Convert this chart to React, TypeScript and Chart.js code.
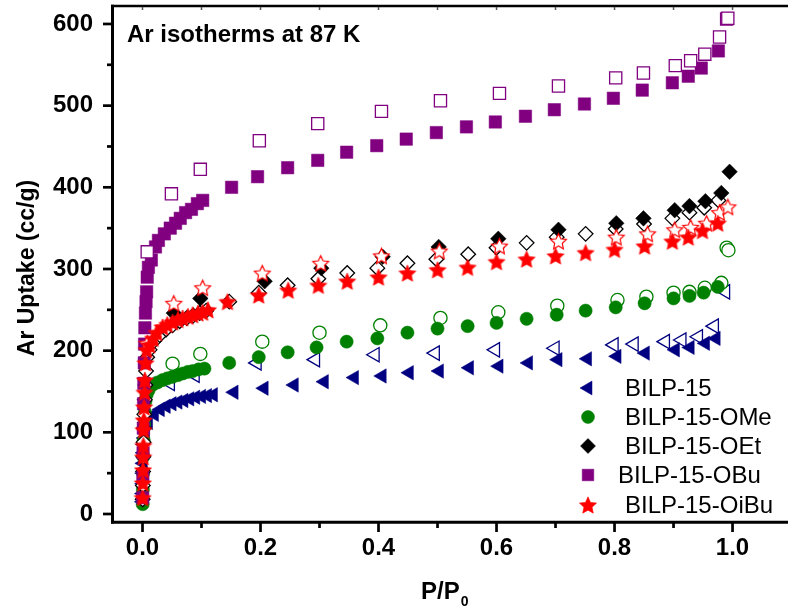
import React, { useEffect, useRef } from 'react';
import { Chart, registerables } from 'chart.js';
import { drawPoint } from 'chart.js/helpers';

Chart.register(...registerables);

// ---------------- data: P/P0 and Ar uptake (cc/g) ----------------
// BILP-15 (navy triangles)
const bilp15AdsP = [0.0002, 0.0004, 0.0006, 0.0008, 0.001, 0.0015, 0.002, 0.003, 0.005, 0.01, 0.02, 0.03, 0.04, 0.05, 0.06, 0.07, 0.08, 0.09, 0.1, 0.11, 0.12,
  0.155, 0.206, 0.257, 0.308, 0.359, 0.406, 0.452, 0.503, 0.554, 0.604, 0.654, 0.704, 0.754, 0.804, 0.852, 0.903, 0.928, 0.954, 0.972];
const bilp15AdsV = [15, 25, 37, 50, 62, 75, 85, 93, 100, 112, 122, 128, 132, 135, 137, 139, 141, 143, 144, 145, 146,
  149, 154, 158, 162, 167, 169, 173, 175, 179, 181, 185, 189, 190, 193, 197, 201, 204, 209, 215];
const bilp15DesP = [0.047, 0.089, 0.194, 0.293, 0.394, 0.496, 0.598, 0.699, 0.799, 0.833, 0.886, 0.914, 0.942, 0.969, 0.988];
const bilp15DesV = [160, 170, 185, 189, 195, 197, 201, 203, 207, 208, 211, 213, 217, 230, 272];

// BILP-15-OMe (green circles)
const omeAdsP = [0.0003, 0.0006, 0.001, 0.0015, 0.002, 0.003, 0.004, 0.005, 0.007, 0.01, 0.017, 0.025, 0.034, 0.042, 0.051, 0.06, 0.068, 0.077, 0.085, 0.095, 0.105,
  0.147, 0.197, 0.246, 0.295, 0.346, 0.398, 0.449, 0.5, 0.551, 0.6, 0.651, 0.702, 0.751, 0.802, 0.851, 0.9, 0.927, 0.951, 0.975];
const omeAdsV = [12, 30, 50, 70, 90, 110, 125, 138, 146, 151, 158, 161, 164, 166, 168, 170, 172, 174, 175, 177, 178,
  185, 192, 198, 204, 211, 215, 222, 227, 230, 234, 239, 244, 249, 253, 258, 264, 267, 271, 278];
const omeDesP = [0.012, 0.051, 0.098, 0.203, 0.3, 0.403, 0.505, 0.603, 0.703, 0.805, 0.854, 0.9, 0.927, 0.953, 0.981, 0.99, 0.993];
const omeDesV = [158, 184, 196, 211, 222, 231, 240, 247, 255, 262, 266, 271, 272, 277, 283, 326, 323];

// BILP-15-OEt (black diamonds)
const oetAdsP = [0.053, 0.098, 0.207, 0.303, 0.407, 0.502, 0.603, 0.705, 0.803, 0.849, 0.902, 0.927, 0.954, 0.981, 0.995];
const oetAdsV = [246, 264, 285, 301, 315, 327, 337, 348, 356, 362, 372, 377, 383, 393, 419];
const oetDesP = [0.0003, 0.0006, 0.001, 0.0014, 0.0018, 0.0023, 0.003, 0.004, 0.005, 0.006, 0.008, 0.012, 0.02, 0.029, 0.04, 0.051, 0.063, 0.075, 0.086, 0.097, 0.108,
  0.147, 0.197, 0.246, 0.298, 0.347, 0.398, 0.449, 0.498, 0.552, 0.6, 0.651, 0.702, 0.751, 0.802, 0.85, 0.898, 0.927, 0.952, 0.976];
const oetDesV = [18, 35, 52, 70, 88, 105, 122, 140, 158, 175, 192, 201, 212, 219, 226, 231, 236, 240, 243, 246, 249,
  260, 271, 280, 288, 295, 301, 307, 312, 318, 326, 332, 339, 343, 349, 355, 362, 369, 375, 384];

// BILP-15-OBu (purple squares)
const obuAdsP = [0.0003, 0.0006, 0.001, 0.0014, 0.0018, 0.0023, 0.003, 0.0035, 0.004, 0.005, 0.006, 0.007, 0.008, 0.01, 0.015, 0.022, 0.027, 0.037, 0.047, 0.056, 0.064, 0.073, 0.083, 0.093, 0.102,
  0.151, 0.195, 0.246, 0.297, 0.346, 0.397, 0.447, 0.498, 0.549, 0.598, 0.649, 0.698, 0.749, 0.798, 0.847, 0.898, 0.925, 0.947, 0.976];
const obuAdsV = [20, 45, 75, 105, 135, 160, 185, 208, 228, 246, 260, 272, 290, 302, 311, 327, 335, 343, 350, 356, 362, 369, 373, 380, 384,
  400, 413, 424, 433, 443, 451, 459, 467, 474, 480, 487, 495, 502, 509, 519, 528, 536, 546, 567];
const obuDesP = [0.008, 0.049, 0.098, 0.198, 0.297, 0.405, 0.505, 0.605, 0.705, 0.802, 0.849, 0.903, 0.929, 0.953, 0.978, 0.99, 0.992];
const obuDesV = [321, 392, 422, 457, 478, 493, 506, 515, 524, 534, 540, 549, 555, 563, 584, 606, 607];

// BILP-15-OiBu (red stars)
const oibuAdsP = [0.0003, 0.0006, 0.0009, 0.0012, 0.0015, 0.0019, 0.0023, 0.0028, 0.0034, 0.004, 0.005, 0.007, 0.012, 0.018, 0.024, 0.034, 0.042, 0.051, 0.06, 0.068, 0.077, 0.085, 0.094, 0.102, 0.111,
  0.144, 0.197, 0.247, 0.298, 0.347, 0.4, 0.449, 0.5, 0.551, 0.6, 0.651, 0.7, 0.751, 0.8, 0.851, 0.898, 0.925, 0.949, 0.975];
const oibuAdsV = [20, 38, 54, 70, 84, 103, 115, 131, 149, 164, 185, 201, 207, 215, 222, 229, 232, 235, 238, 240, 242, 244, 246, 247, 250,
  260, 268, 274, 280, 285, 290, 295, 299, 302, 309, 312, 316, 320, 324, 328, 334, 339, 347, 356];
const oibuDesP = [0.008, 0.053, 0.102, 0.203, 0.302, 0.405, 0.503, 0.605, 0.705, 0.803, 0.856, 0.902, 0.929, 0.956, 0.978, 0.992];
const oibuDesV = [209, 258, 277, 295, 307, 316, 322, 328, 334, 339, 343, 348, 351, 356, 369, 376];

// axis ticks and texts
const xTickValues = [0, 0.2, 0.4, 0.6, 0.8, 1.0];
const xMinorValues = [0.1, 0.3, 0.5, 0.7, 0.9];
const yTickValues = [0, 100, 200, 300, 400, 500, 600];
const yMinorValues = [50, 150, 250, 350, 450, 550];
const seriesNames = ['BILP-15', 'BILP-15-OMe', 'BILP-15-OEt', 'BILP-15-OBu', 'BILP-15-OiBu'];
const annotationText = 'Ar isotherms at 87 K';
const yTitle = 'Ar Uptake (cc/g)';

const FONT = "'Liberation Sans', Arial, Helvetica, sans-serif";
const NAVY = '#000080';
const GREEN = '#008000';
const BLACK = '#000000';
const PURPLE = '#800080';
const RED = '#ff0000';

function makeStar(fill: string, stroke: string, outer: number, inner: number, lw: number) {
  const size = Math.ceil(outer * 2 + lw * 2 + 2);
  const c = document.createElement('canvas');
  c.width = size;
  c.height = size;
  const ctx = c.getContext('2d')!;
  const cx = size / 2;
  const cy = size / 2 + outer * 0.095;
  ctx.beginPath();
  for (let i = 0; i < 10; i++) {
    const r = i % 2 === 0 ? outer : inner;
    const a = -Math.PI / 2 + (i * Math.PI) / 5;
    ctx.lineTo(cx + r * Math.cos(a), cy + r * Math.sin(a));
  }
  ctx.closePath();
  ctx.fillStyle = fill;
  ctx.fill();
  if (lw > 0) {
    ctx.lineWidth = lw;
    ctx.strokeStyle = stroke;
    ctx.lineJoin = 'miter';
    ctx.stroke();
  }
  return c;
}

function pts(xs: number[], ys: number[]) {
  return xs.map((x, i) => ({ x, y: ys[i] }));
}

export default function App() {
  const ref = useRef<HTMLCanvasElement | null>(null);

  useEffect(() => {
    const canvas = ref.current;
    if (!canvas) return;
    const starFilled = makeStar(RED, RED, 9, 4.3, 0.6);
    const starOpen = makeStar('#ffffff', RED, 8.3, 4.0, 1.2);

    const mk = (label: string, xs: number[], ys: number[], style: any, color: string, filled: boolean, radius: number, order: number, rotation = 0) => ({
      label,
      data: pts(xs, ys),
      showLine: false,
      pointStyle: style,
      pointRotation: rotation,
      pointRadius: radius,
      pointHoverRadius: radius,
      pointBackgroundColor: filled ? color : '#ffffff',
      pointBorderColor: color,
      pointBorderWidth: filled ? 0.5 : 1.3,
      order,
      clip: false,
    });

    const datasets = [
      mk('BILP-15-OiBu', oibuAdsP, oibuAdsV, starFilled, RED, true, 8, 1),
      mk('BILP-15-OiBu des', oibuDesP, oibuDesV, starOpen, RED, false, 8, 2),
      mk('BILP-15-OBu des', obuDesP, obuDesV, 'rect', PURPLE, false, 8.6, 3),
      mk('BILP-15-OBu', obuAdsP, obuAdsV, 'rect', PURPLE, true, 8.8, 4),
      mk('BILP-15-OEt', oetAdsP, oetAdsV, 'rectRot', BLACK, true, 7.8, 5),
      mk('BILP-15-OEt des', oetDesP, oetDesV, 'rectRot', BLACK, false, 7.3, 6),
      mk('BILP-15-OMe', omeAdsP, omeAdsV, 'circle', GREEN, true, 6.6, 7),
      mk('BILP-15-OMe des', omeDesP, omeDesV, 'circle', GREEN, false, 6.6, 8),
      mk('BILP-15', bilp15AdsP, bilp15AdsV, 'triangle', NAVY, true, 8.3, 9, -90),
      mk('BILP-15 des', bilp15DesP, bilp15DesV, 'triangle', NAVY, false, 8.3, 10, -90),
    ];

    const legendItems = [
      { name: seriesNames[0], style: 'triangle', rotation: -90, radius: 8, color: NAVY, y: 388, tx: 625 },
      { name: seriesNames[1], style: 'circle', rotation: 0, radius: 6.5, color: GREEN, y: 417, tx: 625 },
      { name: seriesNames[2], style: 'rectRot', rotation: 0, radius: 7.5, color: BLACK, y: 446, tx: 625 },
      { name: seriesNames[3], style: 'rect', rotation: 0, radius: 8.2, color: PURPLE, y: 475, tx: 618 },
      { name: seriesNames[4], style: starFilled, rotation: 0, radius: 8, color: RED, y: 505, tx: 625 },
    ];

    const decor = {
      id: 'decor',
      afterDraw(chart: any) {
        const ctx: CanvasRenderingContext2D = chart.ctx;
        const { left, right, top, bottom } = chart.chartArea;
        const xs = chart.scales.x;
        const ys = chart.scales.y;
        ctx.save();
        ctx.strokeStyle = '#000';
        ctx.lineCap = 'butt';
        // frame
        ctx.lineWidth = 3;
        ctx.beginPath();
        ctx.moveTo(left - 0.5, top - 1.3);
        ctx.lineTo(left - 0.5, bottom + 1.5);
        ctx.stroke();
        ctx.beginPath();
        ctx.moveTo(left - 2, bottom + 0.3);
        ctx.lineTo(right, bottom + 0.3);
        ctx.stroke();
        ctx.lineWidth = 2.7;
        ctx.beginPath();
        ctx.moveTo(left - 2, top);
        ctx.lineTo(right, top);
        ctx.stroke();
        // y ticks
        ctx.lineWidth = 2.7;
        yTickValues.forEach((v) => {
          const p = ys.getPixelForValue(v);
          ctx.beginPath();
          ctx.moveTo(left - 10, p);
          ctx.lineTo(left - 1, p);
          ctx.stroke();
        });
        yMinorValues.forEach((v) => {
          const p = ys.getPixelForValue(v);
          ctx.beginPath();
          ctx.moveTo(left - 6, p);
          ctx.lineTo(left - 1, p);
          ctx.stroke();
        });
        // x ticks
        xTickValues.forEach((v) => {
          const p = xs.getPixelForValue(v);
          ctx.beginPath();
          ctx.moveTo(p, bottom + 1);
          ctx.lineTo(p, bottom + 10);
          ctx.stroke();
        });
        xMinorValues.forEach((v) => {
          const p = xs.getPixelForValue(v);
          ctx.beginPath();
          ctx.moveTo(p, bottom + 1);
          ctx.lineTo(p, bottom + 6);
          ctx.stroke();
        });
        // top small inward ticks
        ctx.lineWidth = 1.5;
        ctx.strokeStyle = '#555';
        [...xTickValues, ...xMinorValues].forEach((v) => {
          const p = xs.getPixelForValue(v);
          ctx.beginPath();
          ctx.moveTo(p, top + 1);
          ctx.lineTo(p, top + 4);
          ctx.stroke();
        });
        ctx.strokeStyle = '#000';

        // texts
        ctx.fillStyle = '#000';
        ctx.font = `bold 24px ${FONT}`;
        ctx.textAlign = 'left';
        ctx.textBaseline = 'alphabetic';
        ctx.fillText(annotationText, 127, 42);

        // x title with subscript
        ctx.font = `bold 24px ${FONT}`;
        ctx.fillText('P/P', 421, 599);
        const w = ctx.measureText('P/P').width;
        ctx.font = `bold 14px ${FONT}`;
        ctx.fillText('0', 421 + w + 1, 606);

        // y title
        ctx.save();
        ctx.translate(34, 268);
        ctx.rotate(-Math.PI / 2);
        ctx.font = `bold 23px ${FONT}`;
        ctx.textAlign = 'center';
        ctx.textBaseline = 'alphabetic';
        ctx.fillText(yTitle, 0, 0);
        ctx.restore();

        // legend
        legendItems.forEach((it) => {
          ctx.fillStyle = it.color;
          ctx.strokeStyle = it.color;
          ctx.lineWidth = 0.5;
          drawPoint(ctx, { pointStyle: it.style as any, rotation: it.rotation, radius: it.radius, borderWidth: 0.5 } as any, 588, it.y);
          ctx.fillStyle = '#000';
          ctx.font = `24px ${FONT}`;
          ctx.textAlign = 'left';
          ctx.textBaseline = 'middle';
          ctx.fillText(it.name, it.tx, it.y + 1);
        });
        ctx.restore();
      },
    };

    const chart = new Chart(canvas, {
      type: 'scatter',
      data: { datasets: datasets as any },
      options: {
        responsive: false,
        animation: false,
        events: [],
        layout: { autoPadding: false, padding: { top: 6, right: 0, bottom: 0, left: 0 } },
        plugins: { legend: { display: false }, tooltip: { enabled: false }, title: { display: false } },
        scales: {
          x: {
            type: 'linear',
            min: -0.05,
            max: 1.094,
            grid: { display: false, drawTicks: false },
            border: { display: false },
            afterBuildTicks: (s: any) => {
              s.ticks = xTickValues.map((v) => ({ value: v }));
            },
            afterFit: (s: any) => {
              s.height = 91;
              s.paddingLeft = 0;
              s.paddingRight = 0;
              s.paddingTop = 0;
              s.paddingBottom = 0;
            },
            ticks: {
              autoSkip: false,
              maxRotation: 0,
              minRotation: 0,
              padding: 12,
              color: '#000',
              font: { family: FONT, size: 24, weight: 'bold' },
              callback: (v: any) => Number(v).toFixed(1),
            },
          },
          y: {
            type: 'linear',
            min: -9.8,
            max: 622,
            grid: { display: false, drawTicks: false },
            border: { display: false },
            afterBuildTicks: (s: any) => {
              s.ticks = yTickValues.map((v) => ({ value: v }));
            },
            afterFit: (s: any) => {
              s.width = 113;
              s.paddingLeft = 0;
              s.paddingRight = 0;
              s.paddingTop = 0;
              s.paddingBottom = 0;
            },
            ticks: {
              autoSkip: false,
              padding: 20,
              color: '#000',
              font: { family: FONT, size: 24, weight: 'bold' },
              callback: (v: any) => String(v),
            },
          },
        },
      },
      plugins: [decor],
    });
    return () => chart.destroy();
  }, []);

  return (
    <div style={{ position: 'absolute', left: 0, top: 0, width: 788, height: 613, background: '#fff' }}>
      <canvas ref={ref} width={788} height={613} style={{ display: 'block', width: 788, height: 613 }} />
    </div>
  );
}
